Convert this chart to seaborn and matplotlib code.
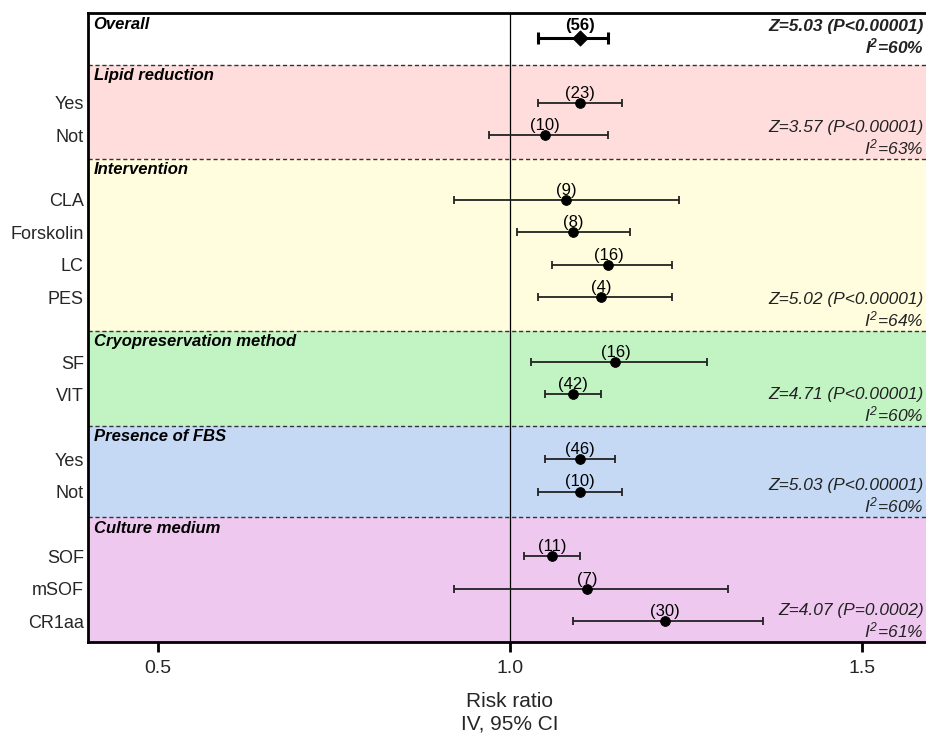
import numpy as np
import pandas as pd
import matplotlib
matplotlib.use("Agg")
import matplotlib.pyplot as plt
import seaborn as sns

# các nhóm phân tích dưới nhóm
groups = ["Overall", "Lipid reduction", "Intervention", "Cryopreservation method",
          "Presence of FBS", "Culture medium"]
group_sizes = [1, 2, 4, 2, 2, 3]
labels = ["", "Yes", "Not", "CLA", "Forskolin", "LC", "PES", "SF", "VIT",
          "Yes", "Not", "SOF", "mSOF", "CR1aa"]
rr = [1.10, 1.10, 1.05, 1.08, 1.09, 1.14, 1.13, 1.15, 1.09, 1.10, 1.10, 1.06, 1.11, 1.22]
ci_low = [1.04, 1.04, 0.97, 0.92, 1.01, 1.06, 1.04, 1.03, 1.05, 1.05, 1.04, 1.02, 0.92, 1.09]
ci_high = [1.14, 1.16, 1.14, 1.24, 1.17, 1.23, 1.23, 1.28, 1.13, 1.15, 1.16, 1.10, 1.31, 1.36]
n_studies = [56, 23, 10, 9, 8, 16, 4, 16, 42, 46, 10, 11, 7, 30]
z_stats = ["Z=5.03 (P<0.00001)", "Z=3.57 (P<0.00001)", "Z=5.02 (P<0.00001)",
           "Z=4.71 (P<0.00001)", "Z=5.03 (P<0.00001)", "Z=4.07 (P=0.0002)"]
i2 = [60, 63, 64, 60, 60, 61]
band_colors = ["#ffffff", "#ffdddd", "#fffddd", "#c2f3c3", "#c5d9f5", "#efc8f0"]

# vị trí các dòng: mỗi nhóm (trừ Overall) có một dòng tiêu đề
rows = [0]
pos = 0
for size in group_sizes[1:]:
    pos += 1
    for k in range(size):
        pos += 1
        rows.append(pos)
band_edges = [-0.77, 0.83, 3.73, 9.03, 11.97, 14.79, 18.64]

df = pd.DataFrame({"label": labels, "rr": rr, "lo": ci_low, "hi": ci_high,
                   "n": n_studies, "row": rows})

sns.set_theme(style="white")
plt.rcParams['font.family'] = ['Liberation Sans', 'DejaVu Sans']
plt.rcParams['mathtext.fontset'] = 'custom'
plt.rcParams['mathtext.rm'] = 'Liberation Sans:italic'
plt.rcParams['mathtext.it'] = 'Liberation Sans:italic'
plt.rcParams['mathtext.bf'] = 'Liberation Sans:bold:italic'

fig = plt.figure(figsize=(9.26, 7.35), dpi=100)
ax = fig.add_axes([0.095, 0.1265, 0.9114, 0.8558])
ax.set_xlim(0.4, 1.6)
ax.set_ylim(band_edges[-1], band_edges[0])

# nền màu cho từng nhóm
for i, g in enumerate(groups):
    ax.axhspan(band_edges[i], band_edges[i + 1], color=band_colors[i], lw=0, zorder=0)
    if i > 0:
        ax.axhline(band_edges[i], color="#333333", lw=1, ls=(0, (3, 2)), zorder=1)
    ax.annotate(g, xy=(0, band_edges[i]), xycoords=ax.get_yaxis_transform(),
                xytext=(4, -8), textcoords="offset points", ha="left", va="center",
                fontsize=12, fontweight="bold", fontstyle="italic", color="black")
    if i == 0:
        i2_txt = r"$\mathbf{I^{2}}$" + f"={i2[i]}%"
        off = 6
    else:
        i2_txt = r"$I^{2}$" + f"={i2[i]}%"
        off = 1
    ax.annotate(f"{z_stats[i]}\n{i2_txt}", xy=(1.0, band_edges[i + 1]),
                xycoords=ax.get_yaxis_transform(), xytext=(-6, off),
                textcoords="offset points", ha="right", va="bottom",
                multialignment="right", fontsize=12.5, fontstyle="italic",
                fontweight="bold" if i == 0 else "normal", color="#222222",
                linespacing=1.15)

ax.axvline(1.0, color="black", lw=0.9, zorder=2)

sub = df.iloc[1:]
ov = df.iloc[:1]
ax.errorbar(sub["rr"], sub["row"], xerr=[sub["rr"] - sub["lo"], sub["hi"] - sub["rr"]],
            fmt="none", ecolor="#222222", elinewidth=1.3, capsize=3, capthick=1.3, zorder=3)
ax.errorbar(ov["rr"], ov["row"], xerr=[ov["rr"] - ov["lo"], ov["hi"] - ov["rr"]],
            fmt="none", ecolor="black", elinewidth=2.2, capsize=4.5, capthick=2.2, zorder=3)
sns.scatterplot(data=sub, x="rr", y="row", color="black", s=50, marker="o",
                edgecolor="black", ax=ax, zorder=4, legend=False)
sns.scatterplot(data=ov, x="rr", y="row", color="black", s=60, marker="D",
                edgecolor="black", ax=ax, zorder=4, legend=False)

for i, r in df.iterrows():
    ax.annotate(f"({r['n']})", xy=(r["rr"], r["row"]), xytext=(0, 9 if i == 0 else 7),
                textcoords="offset points", ha="center", va="center", fontsize=12,
                fontweight="bold" if i == 0 else "normal", color="black", zorder=5)

ax.set_yticks(rows[1:])
ax.set_yticklabels(labels[1:])
ax.set_xticks([0.5, 1.0, 1.5])
ax.set_xticklabels(["0.5", "1.0", "1.5"])
ax.tick_params(axis="y", length=0, labelsize=13, pad=3)
ax.tick_params(axis="x", direction="out", length=7, width=2, labelsize=14, pad=6,
               bottom=True, color="black")
ax.set_xlabel("Risk ratio\nIV, 95% CI", fontsize=15, labelpad=11)
ax.set_ylabel("")

for s in ["left", "top", "bottom"]:
    ax.spines[s].set_linewidth(2)
    ax.spines[s].set_color("black")
ax.spines["right"].set_visible(False)

fig.savefig("out.png", dpi=100)
